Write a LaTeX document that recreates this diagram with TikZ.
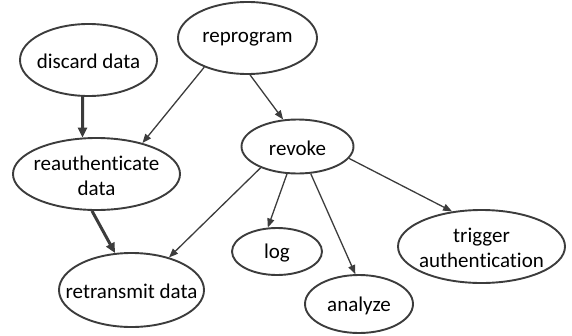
\documentclass[tikz,border=0pt]{standalone}
\usepackage{fontspec}
\setmainfont{Carlito}[Ligatures={NoCommon}]
\usetikzlibrary{shapes.geometric,arrows.meta}
\definecolor{edgegray}{HTML}{3C3C3C}
\begin{document}
\begin{tikzpicture}[x=1pt,y=-1pt,
  ev/.style={ellipse,draw=edgegray,line width=1.9pt,inner sep=0pt},
  lbl/.style={align=center,inner sep=0pt,yshift=-1.5pt,font=\fontsize{21}{25}\selectfont,text=black},
  thin/.style={draw=edgegray,line width=1.3pt,-{Triangle[length=9pt,width=7pt]}},
  thick/.style={draw=edgegray,line width=3pt,-{Triangle[length=10pt,width=9pt]}}]
\useasboundingbox (0,0) rectangle (572,335);
\node[ev,minimum width=137pt,minimum height=72pt,label={[lbl]center:discard data}] (discard) at (88.5,60) {};
\node[ev,minimum width=139pt,minimum height=72pt,label={[lbl]center:reprogram}] (reprogram) at (247.5,38) {};
\node[ev,minimum width=167pt,minimum height=72pt,label={[lbl]center:reauthenticate\\data}] (reauth) at (96.5,174) {};
\node[ev,minimum width=112pt,minimum height=54pt,label={[lbl]center:revoke}] (revoke) at (297.5,146.5) {};
\node[ev,minimum width=145pt,minimum height=74pt,label={[lbl]center:retransmit data}] (retransmit) at (131.5,290) {};
\node[ev,minimum width=90pt,minimum height=47pt,label={[lbl]center:log}] (log) at (277,251.5) {};
\node[ev,minimum width=108pt,minimum height=58pt,label={[lbl]center:analyze}] (analyze) at (359,304) {};
\node[ev,minimum width=167pt,minimum height=73pt,label={[lbl]center:trigger\\authentication}] (trigger) at (481.5,246.5) {};
\draw[thick] (discard.261) -- (reauth.111);
\draw[thick] (reauth.263) -- (retransmit.114);
\draw[thin] (reprogram.214) -- (reauth.34);
\draw[thin] (reprogram.274) -- (revoke.118);
\draw[thin] (revoke.210) -- (retransmit.41);
\draw[thin] (revoke.249) -- (log.111);
\draw[thin] (revoke.296) -- (analyze.97);
\draw[thin] (revoke.347) -- (trigger.130);
\end{tikzpicture}
\end{document}
